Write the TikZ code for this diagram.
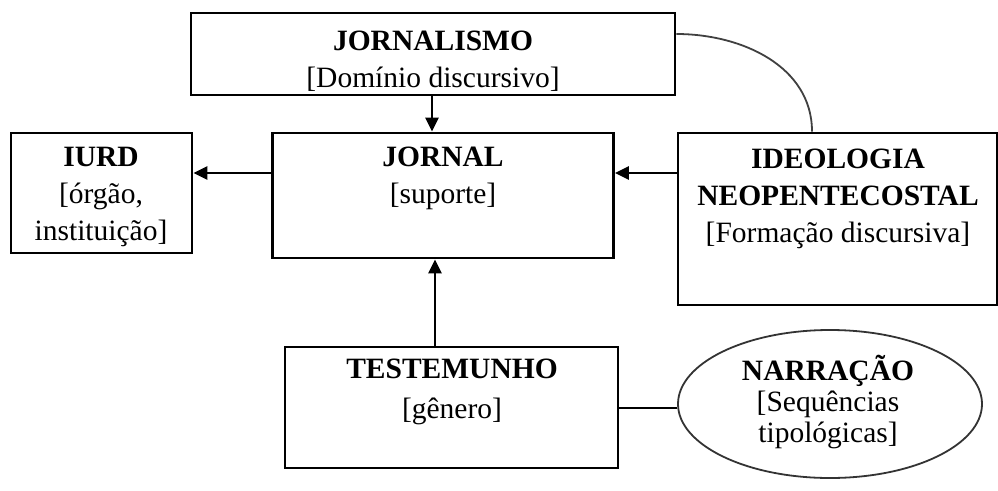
\documentclass[tikz,border=0pt]{standalone}
\usepackage{fontspec}
\setmainfont{Liberation Serif}
\usetikzlibrary{arrows.meta,shapes.geometric}

\tikzset{
  box/.style={draw,line width=2.8pt,inner sep=0pt},
  txt/.style={align=center,anchor=north,inner sep=0pt,font=\fontsize{29.5}{37}\selectfont},
  arr/.style={line width=2.8pt,-{Triangle[length=14pt,width=13pt]}},
}

\begin{document}
\begin{tikzpicture}[x=1pt,y=-1pt]
\useasboundingbox (0,0) rectangle (998,490);
% boxes
\node[box,minimum width=484pt,minimum height=82pt] (jornalismo) at (433,54) {};
\node[box,minimum width=181pt,minimum height=120pt] (iurd) at (101.5,193) {};
\node[box,minimum width=341pt,minimum height=125pt] (jornal) at (443,195.5) {};
\node[box,minimum width=319pt,minimum height=172pt] (ideologia) at (837.5,219) {};
\node[box,minimum width=333pt,minimum height=121pt] (testemunho) at (451.5,407.5) {};
\node[draw=black!80,ellipse,line width=1.8pt,inner sep=0pt,minimum width=304pt,minimum height=148pt] (narracao) at (830,404) {};
% texts
\node[txt] (jornalismoTxt) at (433,31) {\textbf{JORNALISMO}\\{}[Domínio discursivo]};
\node[txt] (iurdTxt) at (101,147) {\textbf{IURD}\\{}[órgão,\\instituição]};
\node[txt] (jornalTxt) at (443,147) {\textbf{JORNAL}\\{}[suporte]};
\node[txt] (ideologiaTxt) at (838,149) {\textbf{IDEOLOGIA}\\\textbf{NEOPENTECOSTAL}\\{}[Formação discursiva]};
\node[txt,font=\fontsize{29.5}{40}\selectfont] (testemunhoTxt) at (452,359) {\textbf{TESTEMUNHO}\\{}[gênero]};
\node[txt,font=\fontsize{29.5}{31}\selectfont] (narracaoTxt) at (828,355) {\textbf{NARRAÇÃO}\\{}[Sequências\\tipológicas]};
% connectors
\coordinate (midy) at (0,173);
\coordinate (lowy) at (0,408);
\coordinate (upx) at (432,0);
\coordinate (midx) at (435,0);
\coordinate (curvey) at (0,34);
\coordinate (curvex) at (812,0);
\draw[arr] (jornalismo.south -| upx) -- (jornal.north -| upx);
\draw[arr] (jornal.west |- midy) -- (iurd.east |- midy);
\draw[arr] (ideologia.west |- midy) -- (jornal.east |- midy);
\draw[arr] (testemunho.north -| midx) -- (jornal.south -| midx);
\draw[line width=2.8pt] (testemunho.east |- lowy) -- (narracao.west |- lowy);
\draw[line width=1.8pt,black!75] (jornalismo.east |- curvey) to[out=0,in=90] (ideologia.north -| curvex);
\end{tikzpicture}
\end{document}
